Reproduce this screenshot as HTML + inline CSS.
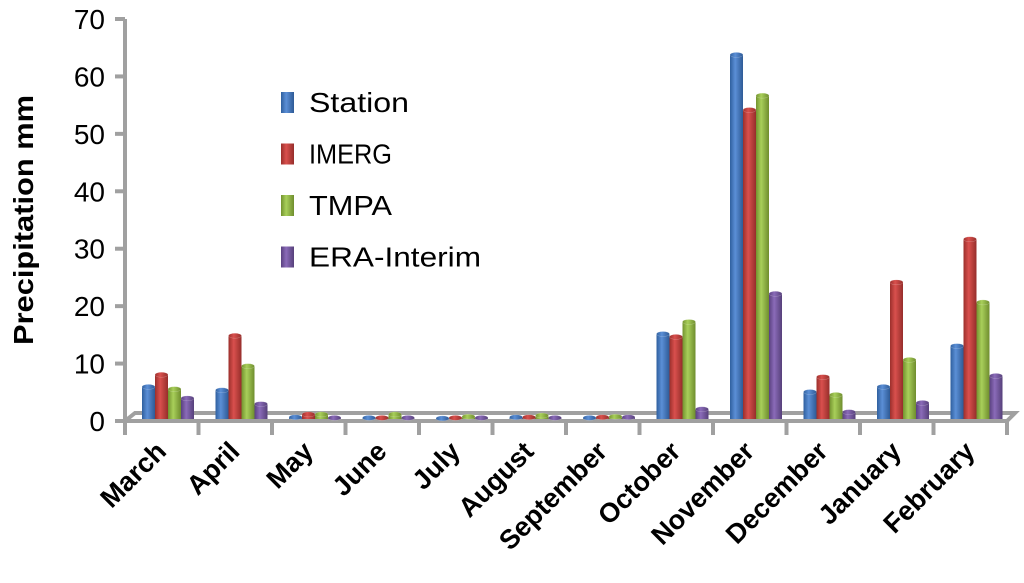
<!DOCTYPE html>
<html><head><meta charset="utf-8"><style>
html,body{margin:0;padding:0;background:#fff;}
svg{display:block;font-family:"Liberation Sans",Arial,sans-serif;}
</style></head><body>
<svg id="chart" width="1024" height="583" viewBox="0 0 1024 583">
<defs>
<linearGradient id="g0" x1="0" x2="1"><stop offset="0" stop-color="#2f5f9e"/><stop offset="0.4" stop-color="#5b8fd6"/><stop offset="1" stop-color="#2e5a96"/></linearGradient>
<linearGradient id="g1" x1="0" x2="1"><stop offset="0" stop-color="#9b2f2c"/><stop offset="0.4" stop-color="#d9504d"/><stop offset="1" stop-color="#962e2b"/></linearGradient>
<linearGradient id="g2" x1="0" x2="1"><stop offset="0" stop-color="#73922f"/><stop offset="0.4" stop-color="#a8cf5a"/><stop offset="1" stop-color="#6f8d2e"/></linearGradient>
<linearGradient id="g3" x1="0" x2="1"><stop offset="0" stop-color="#5a4180"/><stop offset="0.4" stop-color="#8a6bb8"/><stop offset="1" stop-color="#56407a"/></linearGradient>
</defs>
<g id="axes"></g>
<g id="bars"></g>
<g id="labels"></g>
</svg>
<script>
const categories=["March","April","May","June","July","August","September","October","November","December","January","February"];
const seriesNames=["Station","IMERG","TMPA","ERA-Interim"];
const station=[5.6,5.0,0.3,0.2,0.1,0.3,0.2,14.8,63.4,4.7,5.6,12.7];
const imerg=[7.7,14.5,0.8,0.2,0.2,0.3,0.3,14.3,53.8,7.3,23.8,31.3];
const tmpa=[5.2,9.2,0.8,0.8,0.4,0.6,0.4,16.9,56.3,4.2,10.3,20.3];
const era=[3.6,2.6,0.2,0.2,0.2,0.2,0.3,1.7,21.8,1.2,2.8,7.5];
const yTicks=[0,10,20,30,40,50,60,70];
const series=[station,imerg,tmpa,era];
const NS="http://www.w3.org/2000/svg";
const x0=125,catW=73.5,yBase=421,yTop=19,yMax=70;
const y=v=>yBase-(v/yMax)*(yBase-yTop);
const xc=i=>x0+i*catW;
function el(t,a,p){const e=document.createElementNS(NS,t);for(const k in a)e.setAttribute(k,a[k]);p.appendChild(e);return e;}
const ax=document.getElementById('axes'),bg=document.getElementById('bars'),lb=document.getElementById('labels');
const gray="#a0a0a0";
const fl=el('polygon',{points:`${x0},${yBase} ${x0+10},${yBase-8} ${x0+12*catW+8},${yBase-8} ${x0+12*catW},${yBase}`,fill:"none",stroke:gray,"stroke-width":4},ax);

const va=el('line',{x1:x0,y1:yTop,x2:x0,y2:yBase+12,stroke:gray,"stroke-width":4},ax);

yTicks.forEach(t=>{
  const ln=el('line',{x1:x0-10,y1:y(t),x2:x0,y2:y(t),stroke:gray,"stroke-width":4},ax);
  
  const tx=el('text',{x:105,y:y(t)+10,"text-anchor":"end","font-size":28,fill:"#000"},lb);
  tx.textContent=t;
  
});
for(let i=0;i<=12;i++){
  const ln=el('line',{x1:xc(i),y1:yBase,x2:xc(i),y2:yBase+14,stroke:gray,"stroke-width":4},ax);
  
}
const bw=13;
categories.forEach((c,i)=>{
  series.forEach((s,k)=>{
    const bx=xc(i)+17+k*bw, top=y(s[i])-2, bot=yBase-2;
    const r=el('rect',{x:bx,y:top,width:bw,height:Math.max(bot-top,1),fill:`url(#g${k})`},bg);
    
    
    const e=el('ellipse',{cx:bx+bw/2,cy:top,rx:bw/2,ry:2.5,fill:`url(#g${k})`,stroke:"rgba(255,255,255,0.3)","stroke-width":0.5},bg);
    
  });
  const cx=xc(i)+catW/2+6, cy=yBase+32;
  const t=el('text',{x:cx,y:cy,"text-anchor":"end","font-size":27,"font-weight":"bold",transform:`rotate(-45 ${cx} ${cy})`},lb);
  t.textContent=c;
  
});
const yt=el('text',{x:0,y:0,"text-anchor":"middle","font-size":28,"font-weight":"bold",textLength:250,lengthAdjust:"spacingAndGlyphs",transform:"translate(33 220) rotate(-90)"},lb);
yt.textContent="Precipitation mm";

const legLens=[100,83,83,172];
seriesNames.forEach((n,k)=>{
  const ly=102+k*51.5;
  const g=el('g',{},lb);
  
  el('rect',{x:281,y:ly-10,width:13,height:21,fill:`url(#g${k})`},g);
  const t=el('text',{x:309,y:ly+10,"font-size":28,textLength:legLens[k],lengthAdjust:"spacingAndGlyphs"},g);t.textContent=n;
});
</script>
</body></html>
